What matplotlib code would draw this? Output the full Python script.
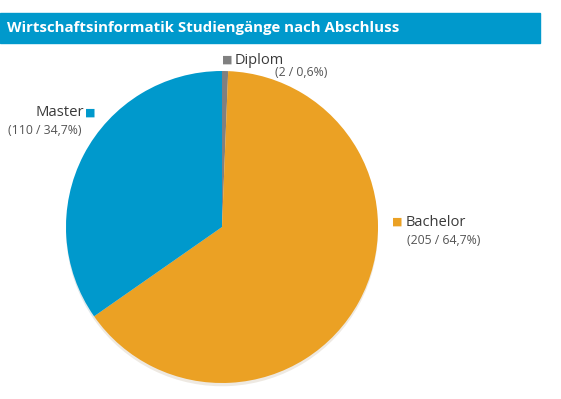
import matplotlib
matplotlib.use('Agg')
import matplotlib.pyplot as plt
from matplotlib.patches import Rectangle

# data
title = 'Wirtschaftsinformatik Studiengänge nach Abschluss'
labels = ['Diplom', 'Bachelor', 'Master']
counts = [2, 205, 110]
shares = ['0,6%', '64,7%', '34,7%']
colors = ['#808080', '#eba124', '#0099cc']

W, H = 561, 399
fig = plt.figure(figsize=(W / 100, H / 100), dpi=100)
plt.rcParams['font.family'] = ['Open Sans', 'DejaVu Sans']

def fx(px):
    return px / W

def fy(py):
    return 1 - py / H

# title bar
fig.patches.append(Rectangle((0, fy(43)), fx(540), (43 - 13) / H,
                             transform=fig.transFigure, color='#0099cc', zorder=0))
fig.text(fx(7), fy(28), title, color='white', fontsize=10.8, fontweight='bold',
         va='center', ha='left')

# pie
cx, cy, r = 222, 227, 156
ax = fig.add_axes([fx(cx - r), fy(cy + r), 2 * r / W, 2 * r / H])
ax.pie(counts, colors=colors, startangle=90, counterclock=False,
       wedgeprops=dict(linewidth=0),
       shadow=dict(ox=0.0, oy=-0.015, shade=0.5, alpha=0.12))
ax.set_xlim(-1, 1)
ax.set_ylim(-1, 1)
ax.set_aspect('auto')
ax.axis('off')

# labels
txt_col = '#3a3a3a'
sub_col = '#555555'

# Diplom
fig.text(fx(222), fy(60), '■', color=colors[0], fontsize=8, va='center', ha='left',
         family='DejaVu Sans')
fig.text(fx(235), fy(60), labels[0], color=txt_col, fontsize=10.5, va='center', ha='left')
fig.text(fx(275), fy(73), '(%d / %s)' % (counts[0], shares[0]), color=sub_col,
         fontsize=8.8, va='center', ha='left')

# Master
fig.text(fx(85), fy(113), '■', color=colors[2], fontsize=8, va='center', ha='left',
         family='DejaVu Sans')
fig.text(fx(84), fy(113), labels[2], color=txt_col, fontsize=10.7, va='center', ha='right')
fig.text(fx(8), fy(130), '(%d / %s)' % (counts[2], shares[2]), color=sub_col,
         fontsize=8.8, va='center', ha='left')

# Bachelor
fig.text(fx(392), fy(222), '■', color=colors[1], fontsize=8, va='center', ha='left',
         family='DejaVu Sans')
fig.text(fx(406), fy(222), labels[1], color=txt_col, fontsize=10.5, va='center', ha='left')
fig.text(fx(407), fy(240), '(%d / %s)' % (counts[1], shares[1]), color=sub_col,
         fontsize=8.8, va='center', ha='left')

fig.savefig('out.png', dpi=100)
